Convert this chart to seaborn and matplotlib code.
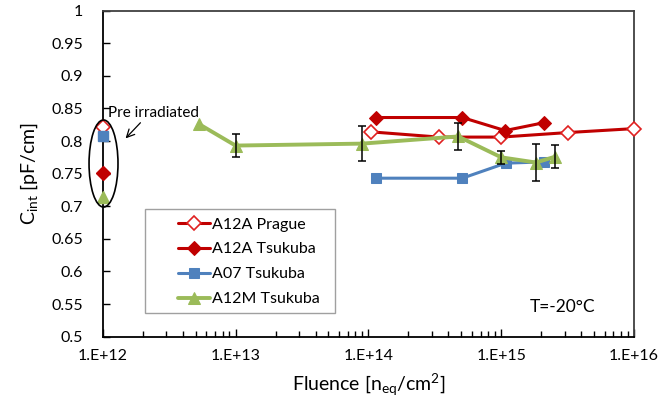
import numpy as np
import pandas as pd
import matplotlib
matplotlib.use("Agg")
import matplotlib.pyplot as plt
import seaborn as sns
from matplotlib.patches import Ellipse, Rectangle
from matplotlib.ticker import FuncFormatter, LogLocator

# ---- data ----
pre_x = 1e12
pre_prague_y = 0.821
pre_tsu12a_y = 0.751
pre_a07_y = 0.8075
pre_a12m_y = 0.714

prague_x = [1.05e14, 3.4e14, 1.0e15, 3.2e15, 1.0e16]
prague_y = [0.814, 0.806, 0.806, 0.813, 0.819]

tsu12a_x = [1.14e14, 5.1e14, 1.07e15, 2.09e15]
tsu12a_y = [0.836, 0.836, 0.816, 0.828]

a07_x = [1.14e14, 5.1e14, 1.08e15, 2.09e15]
a07_y = [0.743, 0.743, 0.766, 0.768]

a12m_x = [5.3e12, 1.0e13, 9.0e13, 4.75e14, 1.0e15, 1.83e15, 2.55e15]
a12m_y = [0.826, 0.793, 0.796, 0.807, 0.775, 0.767, 0.776]
a12m_err = [0.0, 0.017, 0.027, 0.021, 0.010, 0.028, 0.018]

series_labels = ["A12A Prague", "A12A Tsukuba", "A07 Tsukuba", "A12M Tsukuba"]
y_ticks = [0.5, 0.55, 0.6, 0.65, 0.7, 0.75, 0.8, 0.85, 0.9, 0.95, 1.0]

# ---- style ----
sns.set_theme(style="white")
plt.rcParams["font.family"] = ["Lato", "DejaVu Sans"]
plt.rcParams["mathtext.fontset"] = "custom"
plt.rcParams["mathtext.rm"] = "Lato"
plt.rcParams["mathtext.it"] = "Lato"

fig = plt.figure(figsize=(6.64, 4.05), dpi=100)
ax = fig.add_axes([0.1547, 0.1686, 0.8001, 0.8054])

red_open = "#E02020"
red = "#C00000"
blue = "#4F81BD"
green = "#9BBB59"

styles = [
    dict(color=red, lw=2.2, marker="D", markersize=7, markerfacecolor="white",
         markeredgecolor=red_open, markeredgewidth=1.2),
    dict(color=red, lw=2.2, marker="D", markersize=7.5, markerfacecolor=red,
         markeredgecolor=red),
    dict(color=blue, lw=2.2, marker="s", markersize=6.5, markerfacecolor=blue,
         markeredgecolor=blue),
    dict(color=green, lw=2.8, marker="^", markersize=9, markerfacecolor=green,
         markeredgecolor=green),
]
xs = [prague_x, tsu12a_x, a07_x, a12m_x]
ys = [prague_y, tsu12a_y, a07_y, a12m_y]
pre_ys = [pre_prague_y, pre_tsu12a_y, pre_a07_y, pre_a12m_y]

for i, (x, y, lab, st) in enumerate(zip(xs, ys, series_labels, styles)):
    sns.lineplot(x=x, y=y, ax=ax, label=lab, sort=False, clip_on=False,
                 zorder=3 + i, **st)

# pre-irradiated points (markers only, not joined)
pre_order = [0, 2, 1, 3]
for i in pre_order:
    st = {k: v for k, v in styles[i].items() if k != "lw"}
    ax.plot([pre_x], [pre_ys[i]], linestyle="none", clip_on=False,
            zorder=3 + i, **st)

ex = [x for x, e in zip(a12m_x, a12m_err) if e > 0]
ey = [y for y, e in zip(a12m_y, a12m_err) if e > 0]
ee = [e for e in a12m_err if e > 0]
ax.errorbar(ex, ey, yerr=ee, fmt="none", ecolor="black", elinewidth=1.1,
            capsize=3, capthick=1.1, zorder=7)

ax.set_xscale("log")
ax.set_xlim(1e12, 1e16)
ax.set_ylim(0.5, 1.0)
ax.set_yticks(y_ticks)
ax.yaxis.set_major_formatter(FuncFormatter(lambda v, p: f"{v:g}"))
ax.xaxis.set_major_locator(LogLocator(base=10, numticks=10))
ax.xaxis.set_minor_locator(LogLocator(base=10, subs=np.arange(2, 10), numticks=50))
ax.xaxis.set_major_formatter(FuncFormatter(lambda v, p: f"1.E+{int(round(np.log10(v)))}"))

ax.tick_params(axis="x", which="major", direction="in", length=6, width=1,
               color="black", labelsize=11.5, pad=9, bottom=True, top=False,
               labelcolor="black")
ax.tick_params(axis="x", which="minor", direction="in", length=4, width=1,
               color="black", bottom=True, top=False)
ax.tick_params(axis="y", which="major", direction="in", length=5, width=1,
               color="black", labelsize=11.5, pad=14, left=True, right=False,
               labelcolor="black")

for side in ["left", "bottom"]:
    ax.spines[side].set_color("black")
    ax.spines[side].set_linewidth(1.3)
for side in ["top", "right"]:
    ax.spines[side].set_color("#404040")
    ax.spines[side].set_linewidth(1.3)

ax.set_xlabel(r"Fluence [n$_{\mathrm{eq}}$/cm$^{2}$]", fontsize=14, color="black",
              labelpad=6)
ax.set_ylabel(r"C$_{\mathrm{int}}$ [pF/cm]", fontsize=14, color="black",
              labelpad=8)

# legend with Excel-like box
ax.add_patch(Rectangle((0.0796, 0.0736), 0.357, 0.318, transform=ax.transAxes,
                       facecolor="white", edgecolor="#A0A0A0", lw=1.0, zorder=8))
leg = ax.legend(loc="upper left", bbox_to_anchor=(0.141, 0.366), frameon=False,
                fontsize=11.5, handlelength=2.0, handletextpad=0.15,
                labelspacing=0.67, borderaxespad=0, borderpad=0)
leg.set_zorder(9)
for t in leg.get_texts():
    t.set_color("black")

# pre-irradiated marker
ax.add_patch(Ellipse((0.0015, 0.531), 0.0545, 0.267, transform=ax.transAxes,
                     facecolor="none", edgecolor="black", lw=1.2, clip_on=False,
                     zorder=8))
ax.annotate("", xy=(0.043, 0.608), xytext=(0.071, 0.656),
            xycoords="axes fraction", textcoords="axes fraction",
            arrowprops=dict(arrowstyle="->", color="black", lw=0.9,
                            shrinkA=0, shrinkB=0, mutation_scale=14))
ax.text(0.010, 0.686, "Pre irradiated", transform=ax.transAxes, fontsize=11,
        color="black", va="center", ha="left")

ax.text(0.803, 0.092, "T=-20°C", transform=ax.transAxes, fontsize=12.5,
        color="black", va="center", ha="left")

fig.savefig("out.png", dpi=100)
